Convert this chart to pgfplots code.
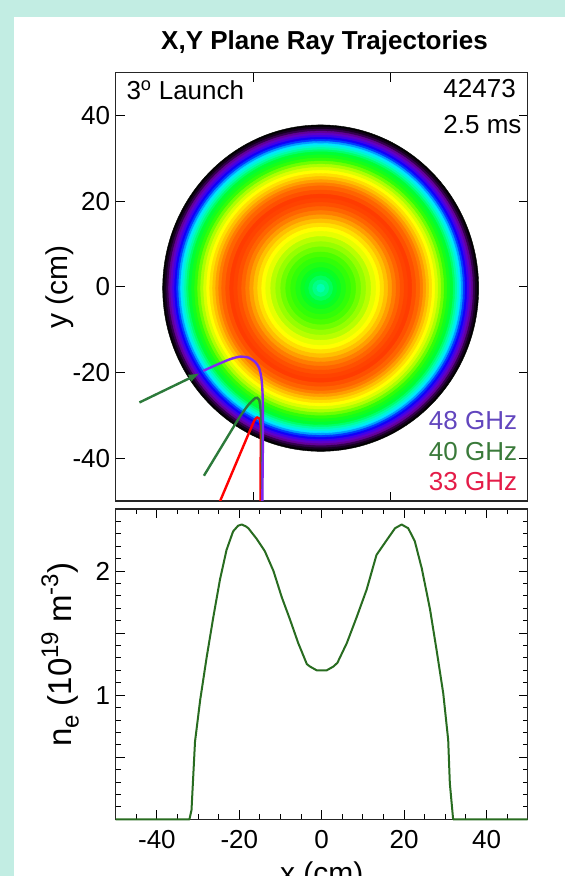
\documentclass[border=0pt]{standalone}
\usepackage{fontspec}
\setmainfont{Liberation Sans}
\usepackage{pgfplots}
\usepackage{pgfplotstable}
\pgfplotsset{compat=1.18}
\usetikzlibrary{arrows.meta}
\definecolor{bgteal}{RGB}{194,237,227}
\definecolor{ray48}{RGB}{128,40,240}
\definecolor{ray40}{RGB}{44,122,58}
\definecolor{ray33}{RGB}{255,0,0}
\definecolor{txt48}{RGB}{98,70,190}
\definecolor{txt40}{RGB}{58,122,58}
\definecolor{txt33}{RGB}{228,28,72}
\definecolor{necurve}{RGB}{40,108,32}
\newcommand\fs{\fontsize{26}{31}\selectfont}
\newcommand\fl{\fontsize{30}{36}\selectfont}
\newcommand\fn{\fontsize{33}{40}\selectfont}
\newcommand\scr[1]{{\fontsize{24}{28}\selectfont #1}}

\pgfplotsset{colormap={ring}{
 rgb255(0pt)=(0,0,0); rgb255(6pt)=(40,0,60); rgb255(12pt)=(110,0,170);
 rgb255(18pt)=(80,0,230); rgb255(23pt)=(0,0,255); rgb255(29pt)=(0,120,255);
 rgb255(35pt)=(0,230,255); rgb255(41pt)=(0,255,190); rgb255(46pt)=(0,255,120);
 rgb255(52pt)=(0,255,40); rgb255(58pt)=(60,255,0); rgb255(65pt)=(150,255,0);
 rgb255(72pt)=(230,255,0); rgb255(75pt)=(255,255,0); rgb255(82pt)=(255,200,0);
 rgb255(88pt)=(255,150,0); rgb255(94pt)=(255,100,0); rgb255(100pt)=(255,60,0)}}

% density map rings: radius (pt) and colour level
\pgfplotstableread{
x y r c
-0.3 -0.3 158 0
-0.3 -0.3 156 3
-0.3 -0.3 154 7
-0.3 -0.3 152 11
-0.3 -0.3 150 15
-0.3 -0.3 148 19
-0.3 -0.3 146 22
-0.3 -0.3 144 26
-0.3 -0.3 142 31
-0.3 -0.3 140 35
-0.3 -0.3 138 39
-0.3 -0.3 136 43
-0.3 -0.3 134 47
-0.3 -0.3 132 51
-0.3 -0.3 129 54
-0.3 -0.3 126 57
-0.3 -0.3 123 62
-0.3 -0.3 120 67
-0.3 -0.3 117 71
-0.3 -0.3 114 75
-0.3 -0.3 111 79
-0.3 -0.3 108 83
-0.3 -0.3 105 87
-0.3 -0.3 102 91
-0.3 -0.3 99 94
-0.3 -0.3 95 97
-0.3 -0.3 91 100
-0.3 -0.3 87 99
-0.3 -0.3 83 97
-0.3 -0.3 79 94
-0.3 -0.3 75 91
-0.3 -0.3 71 87
-0.3 -0.3 67 83
-0.3 -0.3 63 79
-0.3 -0.3 59 75
-0.3 -0.3 55 72
-0.3 -0.3 50 68
-0.3 -0.3 45 65
-0.3 -0.3 40 62
-0.3 -0.3 35 59
-0.3 -0.3 30 57
-0.3 -0.3 25 55
-0.3 -0.3 20 53
-0.3 -0.3 16 51
-0.3 -0.3 12 48
-0.3 -0.3 8 45
-0.3 -0.3 4 42
}\ringtab

\pgfplotstableread{
x ne
-50 0
-32.1 0
-31.6 0.075
-30.75 0.625
-29.5 0.96
-27.9 1.31
-26.3 1.63
-24.7 1.93
-23.1 2.17
-21.5 2.32
-20.3 2.365
-19.4 2.375
-18.4 2.36
-17.8 2.345
-15.8 2.26
-13.8 2.16
-11.7 2.0
-9.7 1.79
-7.7 1.61
-5.7 1.42
-3.6 1.25
-2.8 1.23
-1.2 1.20
1.2 1.20
2.8 1.23
3.8 1.26
6.1 1.42
8.5 1.63
10.9 1.85
13.3 2.13
15.8 2.25
17.8 2.345
19.4 2.375
21.0 2.345
22.6 2.24
24.3 2.02
26.3 1.69
27.9 1.36
29.5 1.015
30.7 0.64
31.1 0.29
31.9 0.0
50 0
}\netab

\begin{document}
\begin{tikzpicture}
\useasboundingbox (0,0) rectangle (565pt,876pt);
\clip (0,0) rectangle (565pt,876pt);
\fill[bgteal] (0,0) rectangle (565pt,876pt);
\fill[white] (13.5pt,0) rectangle (565pt,858.5pt);

\begin{axis}[
  at={(115.7pt,375pt)}, anchor=south west, scale only axis,
  width=412pt, height=428.3pt,
  xmin=-60, xmax=60, ymin=-50, ymax=50,
  xtick={-60,-20,20,60}, xticklabels={},
  ytick={-40,-20,0,20,40},
  tick align=inside, major tick length=9pt,
  axis line style={line width=1.1pt, black!85},
  tick style={line width=1pt, black},
  tick label style={font=\fs},
  /pgf/number format/assume math mode=true,
  yticklabel style={xshift=-2pt},
  ylabel={y (cm)},
  ylabel style={font=\fl, at={(axis description cs:-0.135,0.5)}, anchor=center},
  colormap name=ring, point meta min=0, point meta max=100,
  clip marker paths=true,
]
\addplot[scatter, only marks, mark=*, point meta=explicit,
  scatter/use mapped color={draw=mapped color, fill=mapped color},
  mark options={yscale=1.033},
  visualization depends on={\thisrow{r} \as \rr},
  scatter/@pre marker code/.append style={/tikz/mark size=\rr pt}]
  table[x=x, y=y, meta=c]{\ringtab};

\addplot[ray33, line width=2.4pt, smooth, tension=0.5] coordinates {
 (-29.9,-50.6) (-20.6,-33.0) (-19.4,-31.0) (-18.8,-30.5) (-18.2,-30.7)
 (-17.8,-31.9) (-17.7,-35.8) (-17.8,-42) (-17.8,-51)};
\addplot[ray40, line width=2.4pt, smooth, tension=0.5] coordinates {
 (-34.3,-44.1) (-26.2,-33.4) (-23.8,-30.3) (-21.4,-27.6) (-19.4,-26.0)
 (-18.8,-25.9) (-18.2,-26.4) (-17.8,-28.7) (-17.5,-33.4) (-17.4,-42) (-17.4,-51)};
\addplot[ray48, line width=2.4pt, smooth, tension=0.5] coordinates {
 (-34.5,-19.6) (-30.6,-18.2) (-26.7,-16.9) (-23.8,-16.3) (-21.4,-16.5)
 (-19.4,-17.5) (-18.2,-19.0) (-17.5,-21.7) (-17.2,-25.6) (-17.1,-33.4)
 (-17.2,-42) (-17.3,-51)};
\addplot[ray40, line width=2.4pt, -{Latex[length=12pt,width=8pt]}] coordinates {
 (-53.1,-27.0) (-35.3,-20.1)};

\node[anchor=base west, font=\fs] at (axis description cs:0.0177,0.938) {3\textsuperscript{o} Launch};
\node[anchor=base west, font=\fs] at (axis description cs:0.787,0.9426) {42473};
\node[anchor=base west, font=\fs] at (axis description cs:0.787,0.859) {2.5 ms};
\node[anchor=base west, font=\fs, text=txt48] at (axis description cs:0.7517,0.168) {48 GHz};
\node[anchor=base west, font=\fs, text=txt40] at (axis description cs:0.7517,0.0957) {40 GHz};
\node[anchor=base west, font=\fs, text=txt33] at (axis description cs:0.7517,0.0245) {33 GHz};
\end{axis}

\node[anchor=base, font=\fs\bfseries] at (324.5pt,826.7pt) {X,Y Plane Ray Trajectories};

\begin{axis}[
  at={(115.7pt,56.7pt)}, anchor=south west, scale only axis,
  width=412pt, height=310.3pt,
  xmin=-50, xmax=50, ymin=0, ymax=2.5,
  xtick={-40,-20,0,20,40}, minor xtick={-50,-45,...,50},
  ytick={0.5,1,1.5,2}, yticklabels={,1,,2},
  minor ytick={0.1,0.2,...,2.45},
  tick align=inside, major tick length=9pt, minor tick length=5pt,
  axis line style={line width=1.1pt, black!85},
  tick style={line width=1pt, black},
  tick label style={font=\fs},
  /pgf/number format/assume math mode=true,
  yticklabel style={xshift=-2pt},
  xticklabel style={yshift=-8pt},
  xlabel={x (cm)},
  xlabel style={font=\fl, at={(axis description cs:0.5,-0.2085)}, anchor=base},
  ylabel={n\raisebox{-0.2em}{\scr{e}} (10\raisebox{0.42em}{\scr{19}} m\raisebox{0.42em}{\scr{-3}})},
  ylabel style={font=\fn, at={(axis description cs:-0.135,0.53)}, anchor=center},
  clip=false,
]
\addplot[necurve, line width=2pt, line join=round] table[x=x, y=ne]{\netab};
\end{axis}
\end{tikzpicture}
\end{document}
